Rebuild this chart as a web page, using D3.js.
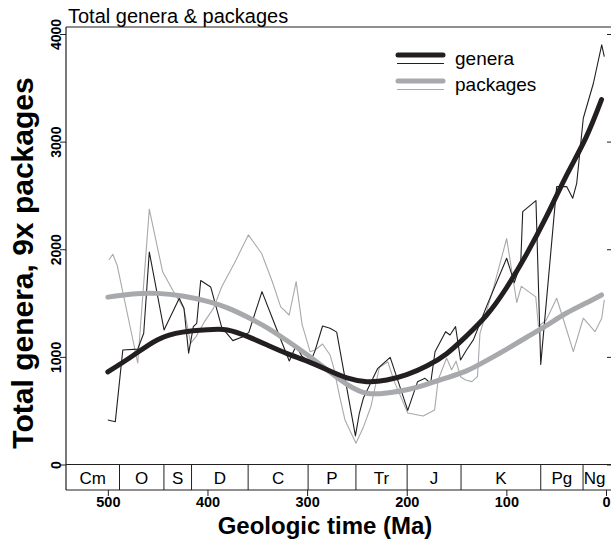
<!DOCTYPE html>
<html>
<head>
<meta charset="utf-8">
<script src="https://cdn.jsdelivr.net/npm/d3@7"></script>
<style>
  html, body { margin: 0; padding: 0; background: #fff; }
  svg { display: block; font-family: "Liberation Sans", Arial, Helvetica, sans-serif; }
</style>
</head>
<body>
<svg id="chart" width="611" height="545"></svg>
<script>
// Geologic periods (GTS2004 boundaries, Ma)
const periods = ["Cm", "O", "S", "D", "C", "P", "Tr", "J", "K", "Pg", "Ng"];
const periodBase = [542, 488.3, 443.7, 416, 359.2, 299, 251, 199.6, 145.5, 65.5, 23.03];

// Genus counts through time
const generaAge = [500, 492.5, 485, 470, 464, 458.4, 443.6, 428.3, 423.6, 418.9, 414.2, 410.8, 406.8, 396.8, 385.7, 374.5, 364.6, 358.5, 345.3, 332.2, 317.9, 311, 305.4, 297, 292, 284.5, 277, 270.3, 251.5, 247.6, 243.6, 229.3, 216.6, 199, 189.2, 181.7, 176, 171.6, 161, 156.6, 151, 146, 140, 133, 126.5, 120, 99.7, 92, 85.6, 83.6, 70.3, 65.5, 49.5, 39.5, 33.4, 29.4, 22.8, 12.7, 4.3, 1.7];
const generaCount = [413, 398, 1064, 1072, 1220, 1975, 1250, 1545, 1452, 1035, 1281, 1312, 1710, 1650, 1275, 1151, 1188, 1228, 1606, 1296, 962, 1105, 1008, 945, 1058, 1287, 1266, 1230, 266, 476, 615, 890, 996, 503, 768, 801, 755, 1048, 1234, 1203, 1281, 971, 1064, 1160, 1312, 1467, 1916, 1690, 1870, 2349, 2452, 930, 2582, 2582, 2474, 2613, 3217, 3540, 3899, 3790];

// Sedimentary package counts, multiplied by 9
const packagesAge = [499, 495, 490.5, 470, 458.4, 445, 435, 423.5, 416.9, 411.5, 403, 394, 385.7, 373, 359, 345.6, 335, 326.5, 318, 311, 305, 297, 292, 284.5, 277, 273.6, 267, 262, 251, 244, 236, 227.5, 219, 212.5, 199, 183.5, 172, 168.5, 160, 155, 150.5, 146, 141, 134.5, 129, 126.5, 113, 99.7, 89.6, 85, 70.5, 67.8, 60, 49.5, 40, 32.8, 22.8, 11, 4.3, 1.7];
const packagesX9 = [1900, 1953, 1846, 943, 2372, 1790, 1622, 1445, 1125, 1188, 1327, 1451, 1652, 1870, 2133, 1960, 1700, 1464, 1389, 1699, 1300, 1048, 1064, 1120, 1018, 909, 620, 414, 197, 336, 537, 900, 955, 770, 478, 450, 507, 785, 990, 880, 960, 816, 785, 770, 816, 1219, 1638, 2100, 1505, 1655, 1557, 1281, 1343, 1545, 1266, 1048, 1359, 1234, 1359, 1529];

// Smoothed trends
const smoothAge = [500, 475, 450, 425, 400, 380, 360, 340, 320, 300, 280, 260, 240, 220, 200, 180, 160, 140, 120, 100, 80, 60, 40, 20, 4.5];
const generaSmooth = [860, 1010, 1160, 1230, 1252, 1250, 1190, 1110, 1030, 960, 880, 805, 770, 785, 835, 915, 1030, 1195, 1385, 1640, 1950, 2300, 2680, 3040, 3390];
const packagesSmooth = [1555, 1585, 1590, 1565, 1515, 1455, 1370, 1270, 1150, 1020, 880, 745, 662, 665, 695, 745, 805, 870, 965, 1070, 1180, 1290, 1405, 1500, 1575];

const yTicks = [0, 1000, 2000, 3000, 4000];
const xTicks = [500, 400, 300, 200, 100, 0];

const ink = "#231f20";
const grey = "#a7a9ac";

const svg = d3.select("#chart");
const W = 611;

const x = d3.scaleLinear().domain([542, 0]).range([66, 606]);
const y = d3.scaleLinear().domain([0, 4065]).range([464.5, 27]);
const bandTop = y(0), bandBottom = 490;

// plot frame: top edge and left axis line
svg.append("line").attr("x1", x(542)).attr("x2", W).attr("y1", y(4065)).attr("y2", y(4065))
  .attr("stroke", ink).attr("stroke-width", 1.2);
svg.append("line").attr("x1", x(542)).attr("x2", x(542)).attr("y1", y(4065)).attr("y2", bandBottom)
  .attr("stroke", ink).attr("stroke-width", 1.2);

// left axis
const yAxis = svg.append("g").attr("transform", `translate(${x(542)},0)`)
  .call(d3.axisLeft(y).tickValues(yTicks).tickSize(6).tickFormat(d3.format("d")));
yAxis.select(".domain").remove();
yAxis.selectAll(".tick line").attr("stroke", ink).attr("stroke-width", 1);
yAxis.selectAll(".tick text")
  .attr("transform", "rotate(-90)")
  .attr("x", 0).attr("y", -5).attr("dy", 0)
  .attr("text-anchor", "middle")
  .attr("fill", "#000")
  .style("font-size", "14px").style("font-weight", "bold")
  .style("font-family", "'Liberation Sans', Arial, sans-serif");

// right-side ticks
const yAxisR = svg.append("g").attr("transform", `translate(607,0)`)
  .call(d3.axisRight(y).tickValues(yTicks).tickSize(5).tickFormat(""));
yAxisR.select(".domain").remove();
yAxisR.selectAll(".tick line").attr("stroke", ink).attr("stroke-width", 1);

// period band
svg.append("line").attr("x1", x(542)).attr("x2", W).attr("y1", bandTop).attr("y2", bandTop)
  .attr("stroke", ink).attr("stroke-width", 1.2);
svg.append("line").attr("x1", x(542)).attr("x2", W).attr("y1", bandBottom).attr("y2", bandBottom)
  .attr("stroke", ink).attr("stroke-width", 1.2);
const periodData = periods.map((p, i) => ({
  name: p, base: periodBase[i], top: i + 1 < periodBase.length ? periodBase[i + 1] : 0
}));
svg.append("g").selectAll("line").data(periodData.slice(1)).join("line")
  .attr("x1", d => x(d.base)).attr("x2", d => x(d.base))
  .attr("y1", bandTop).attr("y2", bandBottom)
  .attr("stroke", ink).attr("stroke-width", 1);
svg.append("g").selectAll("text").data(periodData).join("text")
  .attr("x", d => x((d.base + d.top) / 2))
  .attr("y", 484)
  .attr("text-anchor", "middle")
  .style("font-size", "17px")
  .attr("fill", "#000")
  .text(d => d.name);

// bottom axis
const xAxis = svg.append("g").attr("transform", `translate(0,${bandBottom})`)
  .call(d3.axisBottom(x).tickValues(xTicks).tickSize(6).tickPadding(1).tickFormat(d3.format("d")));
xAxis.select(".domain").remove();
xAxis.selectAll(".tick line").attr("stroke", ink).attr("stroke-width", 1);
xAxis.selectAll(".tick text")
  .attr("fill", "#000")
  .style("font-size", "14.5px").style("font-weight", "bold")
  .style("font-family", "'Liberation Sans', Arial, sans-serif");

// axis titles
svg.append("text").attr("x", 325).attr("y", 534).attr("text-anchor", "middle")
  .style("font-size", "24px").style("font-weight", "bold").text("Geologic time (Ma)");
svg.append("text").attr("transform", `translate(33,${263}) rotate(-90)`)
  .attr("text-anchor", "middle")
  .style("font-size", "30px").style("font-weight", "bold").text("Total genera, 9x packages");

// panel title
svg.append("text").attr("x", 68).attr("y", 23)
  .style("font-size", "20px").text("Total genera & packages");

// series
const line = d3.line().x(d => x(d[0])).y(d => y(d[1]));
const smoothLine = d3.line().x(d => x(d[0])).y(d => y(d[1])).curve(d3.curveNatural);

const plot = svg.append("g");
plot.append("path").datum(d3.zip(packagesAge, packagesX9)).attr("d", line)
  .attr("fill", "none").attr("stroke", grey).attr("stroke-width", 1.1).attr("stroke-linejoin", "round");
plot.append("path").datum(d3.zip(generaAge, generaCount)).attr("d", line)
  .attr("fill", "none").attr("stroke", ink).attr("stroke-width", 1.1).attr("stroke-linejoin", "round");
plot.append("path").datum(d3.zip(smoothAge, packagesSmooth)).attr("d", smoothLine)
  .attr("fill", "none").attr("stroke", grey).attr("stroke-width", 5).attr("stroke-linecap", "round");
plot.append("path").datum(d3.zip(smoothAge, generaSmooth)).attr("d", smoothLine)
  .attr("fill", "none").attr("stroke", ink).attr("stroke-width", 5).attr("stroke-linecap", "round");

// legend
const legend = [
  { label: "genera", color: ink, yy: 55 },
  { label: "packages", color: grey, yy: 81 }
];
const lg = svg.append("g").selectAll("g").data(legend).join("g");
lg.append("line").attr("x1", 398).attr("x2", 443).attr("y1", d => d.yy).attr("y2", d => d.yy)
  .attr("stroke", d => d.color).attr("stroke-width", 5).attr("stroke-linecap", "round");
lg.append("line").attr("x1", 397).attr("x2", 444).attr("y1", d => d.yy + 8.5).attr("y2", d => d.yy + 8.5)
  .attr("stroke", d => d.color).attr("stroke-width", 1.1);
lg.append("text").attr("x", 455).attr("y", d => d.yy + 10)
  .style("font-size", "19px").attr("fill", "#000").text(d => d.label);
</script>
</body>
</html>
